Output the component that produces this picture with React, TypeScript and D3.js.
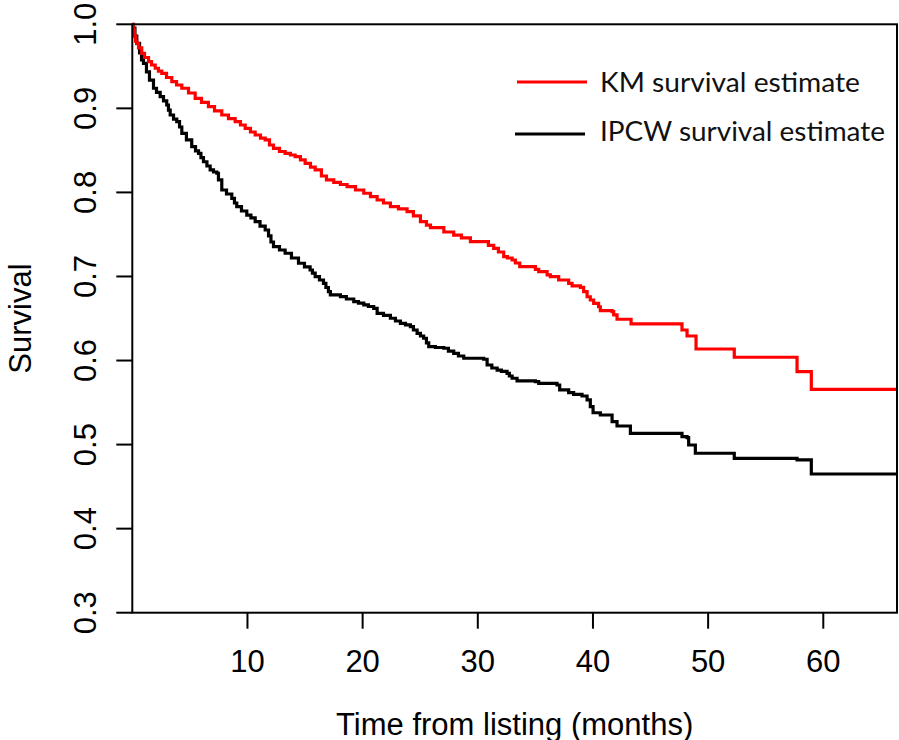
import React from "react";
import * as d3 from "d3";

// Kaplan-Meier survival estimate: [time (months), survival after drop]
const kmTimes = [0, 0.10, 0.19, 0.28, 0.39, 0.54, 0.82, 1.06, 1.41, 1.67, 1.99, 2.27, 2.56, 2.97, 3.43, 3.84, 4.30, 4.88, 5.46, 6.01, 6.61, 7.14, 7.77, 8.35, 8.93, 9.39, 9.80, 10.26, 10.67, 11.13, 11.54, 11.91, 12.26, 12.78, 13.27, 13.73, 14.14, 14.60, 15.01, 15.47, 15.88, 16.42, 16.86, 17.49, 18.07, 18.65, 19.38, 20.10, 20.68, 21.26, 21.81, 22.41, 23.11, 23.86, 24.41, 25.02, 25.54, 25.89, 27.05, 27.91, 28.58, 29.36, 30.92, 31.38, 31.79, 32.25, 32.57, 32.98, 33.26, 33.64, 35.0, 35.29, 36.02, 36.30, 37.02, 37.89, 38.19, 38.91, 39.19, 39.49, 39.77, 40.06, 40.49, 40.64, 41.66, 41.80, 42.09, 43.31, 47.73, 48.17, 48.95, 52.27, 57.72, 58.96, 66.4];
const kmSurv = [1.0, 0.993, 0.986, 0.980, 0.977, 0.972, 0.9655, 0.9605, 0.9555, 0.9516, 0.9477, 0.9444, 0.9417, 0.9367, 0.9317, 0.9278, 0.9239, 0.9183, 0.9119, 0.9070, 0.9020, 0.8969, 0.8921, 0.8879, 0.8841, 0.8802, 0.8763, 0.8719, 0.8683, 0.8647, 0.8624, 0.8564, 0.8525, 0.8487, 0.8465, 0.8445, 0.8425, 0.8386, 0.8346, 0.8302, 0.8267, 0.8195, 0.8148, 0.8120, 0.8094, 0.8068, 0.8029, 0.7990, 0.7951, 0.7910, 0.7874, 0.7830, 0.7803, 0.7771, 0.7720, 0.7652, 0.7612, 0.7580, 0.7529, 0.7493, 0.7458, 0.7414, 0.7369, 0.7335, 0.7291, 0.7235, 0.7220, 0.7196, 0.7160, 0.7116, 0.7085, 0.7057, 0.7018, 0.6997, 0.6958, 0.6919, 0.6887, 0.6871, 0.6819, 0.6759, 0.6720, 0.6681, 0.6640, 0.6593, 0.6581, 0.6542, 0.6491, 0.6435, 0.6363, 0.6292, 0.6137, 0.6039, 0.5867, 0.5658, 0.5658];

// IPCW survival estimate
const ipcwTimes = [0, 0.10, 0.23, 0.39, 0.63, 0.80, 0.97, 1.23, 1.49, 1.84, 2.10, 2.42, 2.71, 2.99, 3.14, 3.29, 3.58, 3.86, 4.10, 4.30, 4.70, 5.16, 5.49, 5.75, 5.96, 6.18, 6.48, 6.76, 7.05, 7.34, 7.48, 7.77, 8.18, 8.64, 8.87, 9.07, 9.48, 9.94, 10.30, 10.67, 11.09, 11.54, 11.83, 12.04, 12.26, 12.78, 13.27, 13.82, 14.43, 14.95, 15.44, 15.64, 15.88, 16.25, 16.60, 16.81, 17.03, 17.20, 18.07, 18.59, 19.23, 19.64, 20.10, 20.50, 20.96, 21.26, 21.81, 22.41, 22.85, 23.28, 23.72, 24.15, 24.41, 24.73, 25.02, 25.30, 25.54, 25.74, 26.32, 27.04, 27.45, 27.91, 28.32, 28.78, 30.51, 30.81, 31.22, 31.68, 32.05, 32.54, 32.74, 32.98, 33.41, 35.0, 35.29, 36.88, 37.11, 37.89, 38.32, 39.05, 39.49, 39.77, 40.01, 40.64, 41.66, 42.09, 43.25, 47.73, 48.17, 48.31, 48.89, 52.27, 57.72, 58.96, 66.4];
const ipcwSurv = [1.0, 0.9956, 0.9861, 0.9774, 0.9659, 0.9575, 0.9536, 0.9433, 0.9337, 0.9239, 0.9189, 0.9139, 0.9088, 0.9040, 0.8980, 0.8921, 0.8873, 0.8841, 0.8778, 0.8703, 0.8624, 0.8544, 0.8493, 0.8465, 0.8415, 0.8365, 0.8314, 0.8267, 0.8243, 0.8228, 0.8148, 0.8029, 0.7981, 0.7930, 0.7874, 0.7830, 0.7779, 0.7731, 0.7696, 0.7652, 0.7600, 0.7553, 0.7482, 0.7410, 0.7354, 0.7315, 0.7276, 0.7220, 0.7157, 0.7113, 0.7077, 0.7041, 0.6997, 0.6958, 0.6919, 0.6869, 0.6819, 0.6780, 0.6760, 0.6732, 0.6700, 0.6684, 0.6661, 0.6643, 0.6621, 0.6562, 0.6536, 0.6503, 0.6470, 0.6443, 0.6423, 0.6403, 0.6363, 0.6324, 0.6292, 0.6265, 0.6209, 0.6165, 0.6155, 0.6146, 0.6113, 0.6086, 0.6054, 0.6027, 0.6015, 0.5947, 0.5911, 0.5887, 0.5870, 0.5848, 0.5816, 0.5789, 0.5757, 0.5748, 0.5729, 0.5709, 0.5650, 0.5617, 0.5598, 0.5578, 0.5531, 0.5451, 0.5379, 0.5352, 0.5272, 0.5221, 0.5134, 0.5094, 0.5082, 0.4995, 0.4897, 0.4837, 0.4817, 0.4650, 0.4650];

const xTicks = [10, 20, 30, 40, 50, 60];
const yTicks = [0.3, 0.4, 0.5, 0.6, 0.7, 0.8, 0.9, 1.0];
const yTickLabels = ["0.3", "0.4", "0.5", "0.6", "0.7", "0.8", "0.9", "1.0"];
const legendLabels = ["KM survival estimate", "IPCW survival estimate"];
const seriesColors = ["#ff0000", "#000000"];

export default function App() {
  const W = 899, H = 740;
  const left = 132.3, right = 897, top = 24.3, bottom = 612.7;
  const x = d3.scaleLinear().domain([0, 66.4]).range([left, right]);
  const y = d3.scaleLinear().domain([0.3, 1.0]).range([bottom, top]);
  const line = d3
    .line<[number, number]>()
    .x((d) => x(d[0]))
    .y((d) => y(d[1]))
    .curve(d3.curveStepAfter);
  const km = kmTimes.map((t, i) => [t, kmSurv[i]] as [number, number]);
  const ipcw = ipcwTimes.map((t, i) => [t, ipcwSurv[i]] as [number, number]);
  const axisFont = "'Liberation Sans', Arial, Helvetica, sans-serif";
  const legendFont = "Lato, 'Open Sans', sans-serif";

  return (
    <svg
      width={W}
      height={H}
      viewBox={`0 0 ${W} ${H}`}
      style={{ position: "absolute", left: 0, top: 0, background: "#fff" }}
    >
      <rect x={0} y={0} width={W} height={H} fill="#fff" />
      <defs>
        <clipPath id="plotclip">
          <rect x={left} y={top - 2} width={right - left} height={bottom - top + 4} />
        </clipPath>
      </defs>
      {/* curves */}
      <g clipPath="url(#plotclip)" fill="none" strokeWidth={3.2} strokeLinejoin="miter" strokeLinecap="square">
        <path d={line(ipcw) || ""} stroke={seriesColors[1]} />
        <path d={line(km) || ""} stroke={seriesColors[0]} />
      </g>
      {/* box */}
      <rect x={left} y={top} width={right - left} height={bottom - top} fill="none" stroke="#000" strokeWidth={2} />
      {/* axes */}
      <g fontFamily={axisFont} fontSize={31} fill="#000">
        {yTicks.map((v, i) => (
          <g key={"y" + i}>
            <line x1={left - 16} x2={left} y1={y(v)} y2={y(v)} stroke="#000" strokeWidth={2} />
            <text
              transform={`translate(95.5,${y(v)}) rotate(-90)`}
              textAnchor="middle"
            >
              {yTickLabels[i]}
            </text>
          </g>
        ))}
        {xTicks.map((v, i) => (
          <g key={"x" + i}>
            <line x1={x(v)} x2={x(v)} y1={bottom} y2={bottom + 16} stroke="#000" strokeWidth={2} />
            <text x={x(v)} y={671.5} textAnchor="middle">
              {String(v)}
            </text>
          </g>
        ))}
        <text x={(left + right) / 2} y={735} textAnchor="middle">
          Time from listing (months)
        </text>
        <text transform={`translate(31,${(top + bottom) / 2}) rotate(-90)`} textAnchor="middle">
          Survival
        </text>
      </g>
      {/* legend */}
      <g fontFamily={legendFont} fontSize={26} fill="#111">
        <line x1={517} x2={587} y1={82} y2={82} stroke={seriesColors[0]} strokeWidth={3} />
        <text x={600} y={91.5} textLength={260} lengthAdjust="spacingAndGlyphs">
          {legendLabels[0]}
        </text>
        <line x1={515} x2={585} y1={134} y2={134} stroke={seriesColors[1]} strokeWidth={3} />
        <text x={600} y={140.5} textLength={285} lengthAdjust="spacingAndGlyphs">
          {legendLabels[1]}
        </text>
      </g>
    </svg>
  );
}
